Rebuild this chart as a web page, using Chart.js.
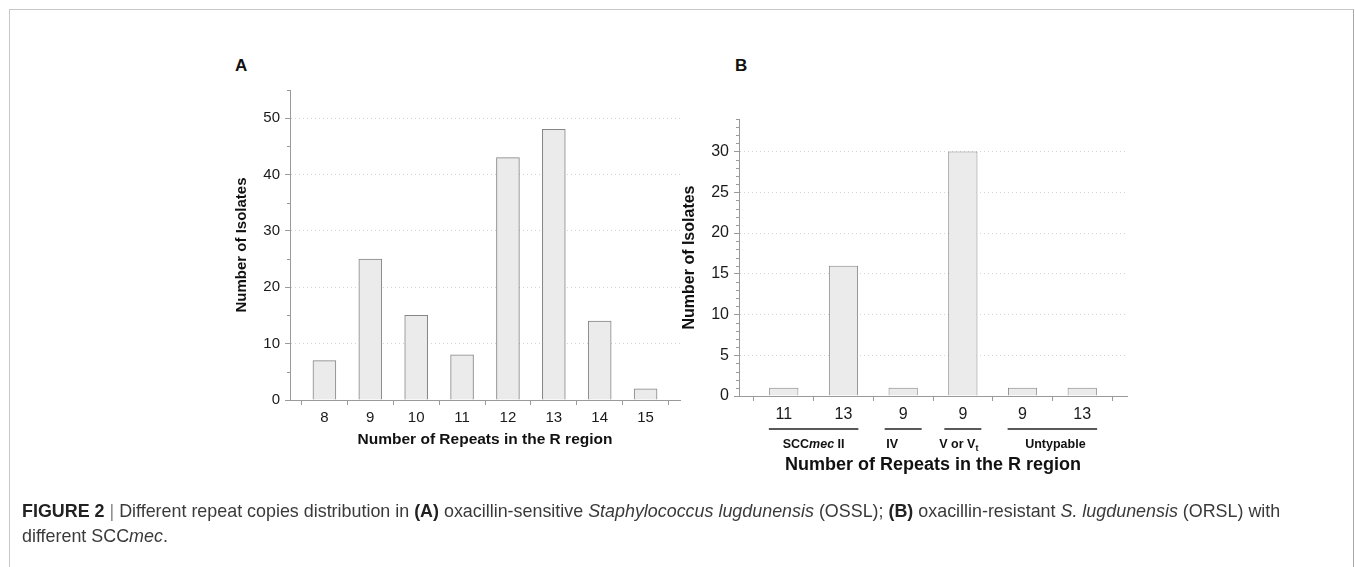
<!DOCTYPE html>
<html>
<head>
<meta charset="utf-8">
<script src="https://cdn.jsdelivr.net/npm/chart.js@4.4.1/dist/chart.umd.min.js"></script>
<style>
  html, body { margin: 0; padding: 0; background: #fff; }
  body { width: 1355px; height: 567px; position: relative; overflow: hidden; font-family: 'Liberation Sans', Arial, sans-serif; }
  #frame { position: absolute; left: 9px; top: 9px; width: 1343px; height: 620px; border: 1px solid #c8c8c8; border-right-color: #a8a8a8; }
  canvas { position: absolute; }
  #chartA { left: 180px; top: 40px; }
  #chartB { left: 640px; top: 60px; }
  .panel { position: absolute; font-weight: bold; font-size: 17px; color: #111; }
  #caption { position: absolute; left: 22px; top: 499px; font-size: 17.9px; line-height: 25px; color: #3a3a3a; white-space: nowrap; }
  #caption b { color: #222; }
  #caption .sep { color: #888; }
</style>
</head>
<body>
<div id="frame"></div>
<div class="panel" style="left:235px; top:56px;">A</div>
<div class="panel" style="left:735px; top:56px;">B</div>
<canvas id="chartA" width="520" height="420"></canvas>
<canvas id="chartB" width="520" height="440"></canvas>
<div id="caption"><b>FIGURE 2</b> <span class="sep">|</span> Different repeat copies distribution in <b>(A)</b> oxacillin-sensitive <i>Staphylococcus lugdunensis</i> (OSSL); <b>(B)</b> oxacillin-resistant <i>S. lugdunensis</i> (ORSL) with<br>different SCC<i>mec</i>.</div>
<script>
// Panel A: OSSL, number of repeats in the R region
const repeatsA = ['8', '9', '10', '11', '12', '13', '14', '15'];
const isolatesA = [7, 25, 15, 8, 43, 48, 14, 2];
const yTicksA = [0, 10, 20, 30, 40, 50];

// Panel B: ORSL, grouped by SCCmec type
const repeatsB = ['11', '13', '9', '9', '9', '13'];
const isolatesB = [1, 16, 1, 30, 1, 1];
const yTicksB = [0, 5, 10, 15, 20, 25, 30];
const groupsB = [
    { parts: [{ t: 'SCC' }, { t: 'mec', i: true }, { t: ' II' }], first: 0, last: 1 },
    { parts: [{ t: 'IV' }], first: 2, last: 2 },
    { parts: [{ t: 'V or V' }, { t: 't', sub: true }], first: 3, last: 3 },
    { parts: [{ t: 'Untypable' }], first: 4, last: 5 }
];
// labels in the original are not quite centred under their lines (px)
const groupLabelShift = [0, -11, -4, 3];

const FONT = "'Liberation Sans', Arial, sans-serif";
const AXIS_GRAY = '#9a9a9a';

// short minor ticks on the y axis (library only draws one tick length)
const minorTicks = {
    id: 'minorTicks',
    afterDraw(chart, args, opts) {
        const y = chart.scales.y;
        const ctx = chart.ctx;
        ctx.save();
        ctx.strokeStyle = AXIS_GRAY;
        ctx.lineWidth = 1;
        for (let v = y.min; v <= y.max + 1e-9; v += opts.step) {
            if (opts.major.includes(v)) continue;
            const py = Math.round(y.getPixelForValue(v)) + 0.5;
            ctx.beginPath();
            ctx.moveTo(y.right - 3, py);
            ctx.lineTo(y.right, py);
            ctx.stroke();
        }
        ctx.restore();
    }
};

// SCCmec group underlines + labels under panel B
const groupLabels = {
    id: 'groupLabels',
    afterDraw(chart, args, opts) {
        if (!opts.groups) return;
        const x = chart.scales.x;
        const ctx = chart.ctx;
        const base = chart.chartArea.bottom;
        ctx.save();
        opts.groups.forEach((g, gi) => {
            const pad = g.first === g.last ? 0.31 : 0.25;
            const x1 = x.getPixelForValue(g.first - pad);
            const x2 = x.getPixelForValue(g.last + pad);
            ctx.strokeStyle = '#222';
            ctx.lineWidth = 1.4;
            ctx.beginPath();
            ctx.moveTo(x1, base + 33);
            ctx.lineTo(x2, base + 33);
            ctx.stroke();

            // measure the mixed-style label, then draw it centred
            const fontFor = p => (p.i ? 'italic ' : '') + 'bold ' + (p.sub ? 9 : 12.5) + 'px ' + FONT;
            let w = 0;
            g.parts.forEach(p => { ctx.font = fontFor(p); w += ctx.measureText(p.t).width; });
            let cx = (x1 + x2) / 2 - w / 2 + (opts.shift[gi] || 0);
            ctx.fillStyle = '#111';
            ctx.textBaseline = 'middle';
            g.parts.forEach(p => {
                ctx.font = fontFor(p);
                ctx.fillText(p.t, cx, base + 49 + (p.sub ? 4 : 0));
                cx += ctx.measureText(p.t).width;
            });
        });
        ctx.restore();
    }
};

function makePanel(id, p) {
    const n = p.labels.length;
    const halfTicks = [];
    for (let i = -0.5; i <= n - 0.5; i += 0.5) halfTicks.push(i);

    return new Chart(document.getElementById(id), {
        type: 'bar',
        data: {
            datasets: [{
                data: p.values.map((v, i) => ({ x: i, y: v })),
                backgroundColor: '#ebebeb',
                borderColor: '#858585',
                borderWidth: 1,
                categoryPercentage: 1,
                barPercentage: p.barPct
            }]
        },
        options: {
            responsive: false,
            animation: false,
            devicePixelRatio: 1,
            layout: { padding: p.padding },
            plugins: {
                legend: { display: false },
                tooltip: { enabled: false },
                minorTicks: { step: p.minorStep, major: p.yTicks },
                groupLabels: { groups: p.groups, shift: groupLabelShift }
            },
            scales: {
                x: {
                    type: 'linear',
                    offset: false,
                    min: -0.75,
                    max: n - 0.25,
                    afterBuildTicks: s => { s.ticks = halfTicks.map(v => ({ value: v })); },
                    afterFit: s => { s.height = p.xHeight; },
                    ticks: {
                        autoSkip: false,
                        maxRotation: 0,
                        padding: 4,
                        color: '#1a1a1a',
                        font: { family: FONT, size: p.tickSize },
                        callback: v => Number.isInteger(v) ? p.labels[v] : ''
                    },
                    grid: {
                        drawOnChartArea: false,
                        offset: false,
                        tickLength: 5,
                        tickColor: c => (c.tick && Number.isInteger(c.tick.value)) ? 'rgba(0,0,0,0)' : AXIS_GRAY
                    },
                    border: { color: AXIS_GRAY, width: 1 },
                    title: {
                        display: true,
                        text: 'Number of Repeats in the R region',
                        color: '#111',
                        font: { family: FONT, size: p.xTitleSize, weight: 'bold' },
                        padding: { top: 0, bottom: p.xTitlePad }
                    }
                },
                y: {
                    min: 0,
                    max: p.yMax,
                    afterBuildTicks: s => { s.ticks = p.yTicks.map(v => ({ value: v })); },
                    afterFit: s => { s.width = p.yWidth; },
                    ticks: {
                        padding: 5,
                        color: '#1a1a1a',
                        font: { family: FONT, size: p.tickSize }
                    },
                    grid: {
                        color: '#d4d4d4',
                        tickColor: AXIS_GRAY,
                        tickLength: 5
                    },
                    border: { color: AXIS_GRAY, width: 1, dash: [1, 3] },
                    title: {
                        display: true,
                        text: 'Number of Isolates',
                        color: '#111',
                        font: { family: FONT, size: p.yTitleSize, weight: 'bold' },
                        padding: { top: p.yTitlePad, bottom: 0 }
                    }
                }
            }
        },
        plugins: [minorTicks, groupLabels]
    });
}

makePanel('chartA', {
    labels: repeatsA, values: isolatesA, yTicks: yTicksA, yMax: 55, minorStep: 5, barPct: 1,
    padding: { top: 50, right: 20, left: 0, bottom: 0 },
    yWidth: 110, xHeight: 60, tickSize: 15,
    xTitleSize: 15.5, xTitlePad: 11, yTitleSize: 15, yTitlePad: 53
});

makePanel('chartB', {
    labels: repeatsB, values: isolatesB, yTicks: yTicksB, yMax: 34, minorStep: 1, barPct: 0.98,
    padding: { top: 59, right: 33, left: 0, bottom: 0 },
    yWidth: 99, xHeight: 104, tickSize: 16,
    xTitleSize: 18, xTitlePad: 24, yTitleSize: 16, yTitlePad: 40,
    groups: groupsB
});
</script>
</body>
</html>
